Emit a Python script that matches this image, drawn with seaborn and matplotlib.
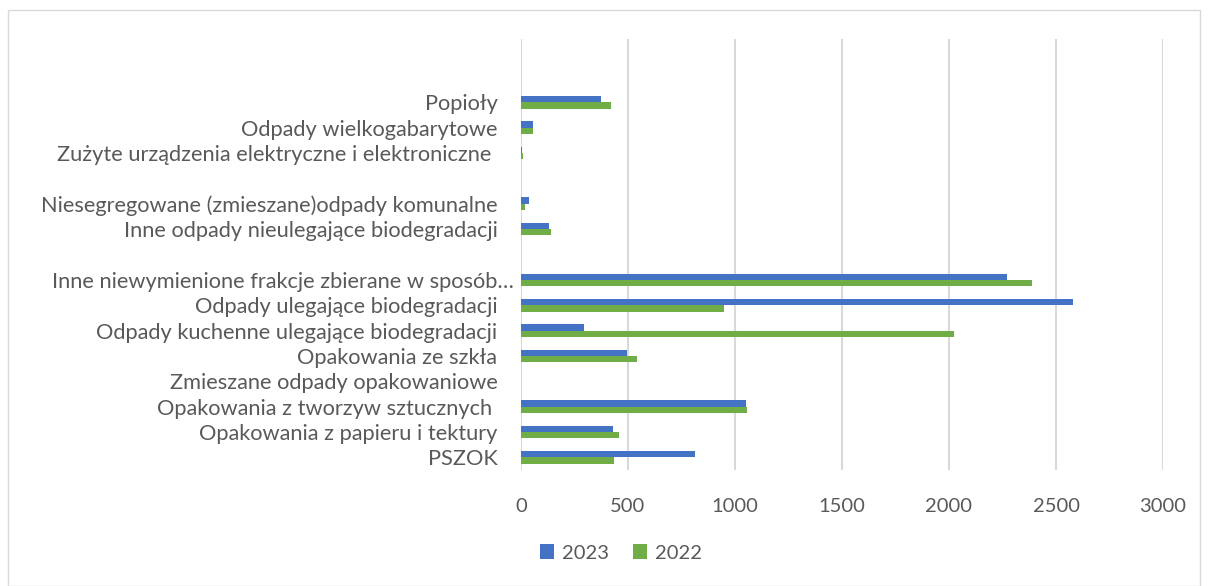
import numpy as np
import pandas as pd
import matplotlib
matplotlib.use("Agg")
import matplotlib.pyplot as plt
import matplotlib.transforms as mtransforms
import seaborn as sns

# categories listed top to bottom, blanks are empty rows in the source chart
categories = [
    " ", "  ",
    "Popioły",
    "Odpady wielkogabarytowe",
    "Zużyte urządzenia elektryczne i elektroniczne ",
    "   ",
    "Niesegregowane (zmieszane)odpady komunalne",
    "Inne odpady nieulegające biodegradacji",
    "    ",
    "Inne niewymienione frakcje zbierane w sposób…",
    "Odpady ulegające biodegradacji",
    "Odpady kuchenne ulegające biodegradacji",
    "Opakowania ze szkła",
    "Zmieszane odpady opakowaniowe",
    "Opakowania z tworzyw sztucznych ",
    "Opakowania z papieru i tektury",
    "PSZOK",
]
values_2023 = [np.nan, np.nan, 374, 57, 6, np.nan, 37, 132, np.nan,
               2269, 2579, 296, 496, 0, 1050, 432, 814]
values_2022 = [np.nan, np.nan, 419, 54, 11, np.nan, 20, 138, np.nan,
               2390, 950, 2023, 540, 0, 1054, 458, 435]
years = ["2023", "2022"]
colors = ["#4472C4", "#70AD47"]

df = pd.DataFrame({
    "kategoria": categories * 2,
    "wartosc": values_2023 + values_2022,
    "rok": [years[0]] * len(categories) + [years[1]] * len(categories),
})

sns.set_style("white")
plt.rcParams["font.family"] = ["Lato", "DejaVu Sans"]
text_color = "#595959"
grid_color = "#D9D9D9"

fig = plt.figure(figsize=(12.08, 5.86), dpi=100)
ax = fig.add_axes([521 / 1208, 1 - 470 / 586, (1163 - 521) / 1208, (470 - 39) / 586])

sns.barplot(data=df, y="kategoria", x="wartosc", hue="rok", order=categories,
            hue_order=years, palette=colors, orient="h", width=0.5,
            saturation=1, linewidth=0, ax=ax)

ax.set_xlim(0, 3000)
ax.set_xticks(range(0, 3001, 500))
ax.set_xlabel("")
ax.set_ylabel("")
ax.xaxis.grid(True, color=grid_color, linewidth=1.5)
ax.set_axisbelow(True)
for s in ax.spines.values():
    s.set_visible(False)
ax.tick_params(axis="both", length=0, labelcolor=text_color)
ax.tick_params(axis="y", pad=17, labelsize=15.7)
ax.tick_params(axis="x", pad=20, labelsize=14.5)

# the truncated label sticks out a bit further right in the original
for lbl in ax.get_yticklabels():
    if lbl.get_text().endswith("…"):
        lbl.set_transform(lbl.get_transform() +
                          mtransforms.ScaledTranslation(16 / 100, 0, fig.dpi_scale_trans))

ax.legend(loc="center", bbox_to_anchor=(621 / 1208, 1 - 553 / 586),
          bbox_transform=fig.transFigure, ncol=2, frameon=False,
          fontsize=14.5, labelcolor=text_color, handlelength=0.7, handleheight=0.7,
          handletextpad=0.4, columnspacing=1.2)

# thin chart-area border like the source
fig.patches.append(plt.Rectangle((8 / 1208, 0), 1192 / 1208, 1 - 10 / 586,
                                 transform=fig.transFigure, fill=False,
                                 edgecolor=grid_color, linewidth=1))

fig.savefig("out.png", dpi=100)
